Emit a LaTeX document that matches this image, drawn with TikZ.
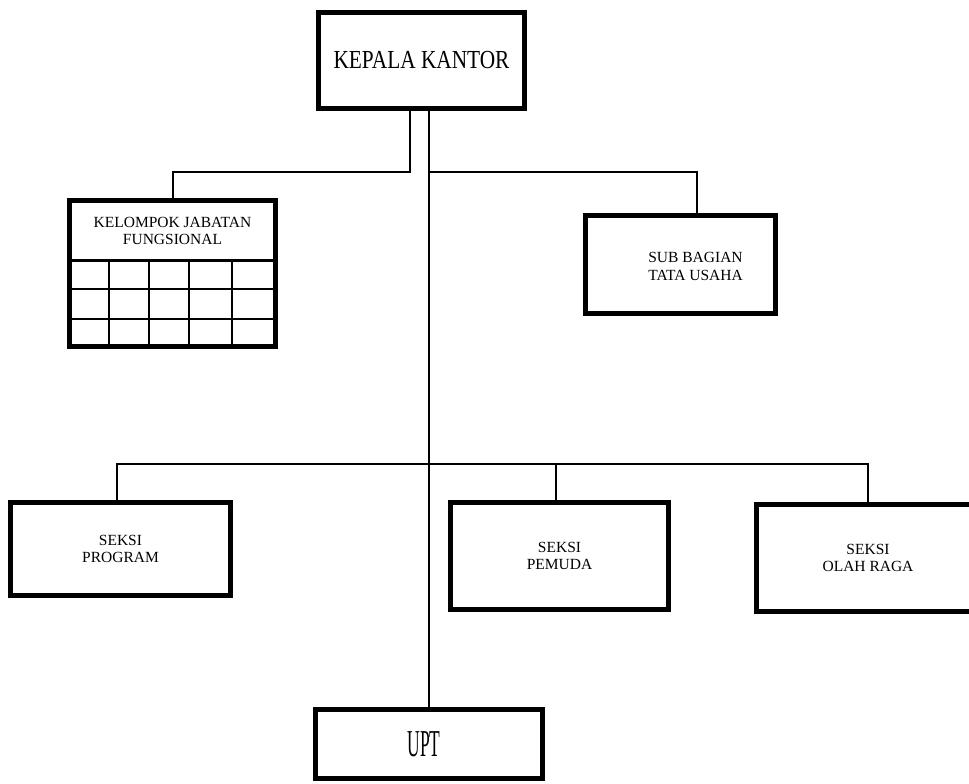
\documentclass[tikz,border=0pt]{standalone}
\usepackage{fontspec}
\setmainfont{Liberation Serif}
\newfontfamily\kfont[FakeStretch=0.82]{Liberation Serif}
\newfontfamily\ufont[FakeStretch=0.46]{Liberation Serif}
\begin{document}
\begin{tikzpicture}[x=1pt,y=-1pt,
  box/.style={draw,line width=5pt,inner sep=0pt,minimum width=#1},
  conn/.style={line width=2pt},
  gridline/.style={line width=2.5pt},
  lbl/.style={align=center,font=\fontsize{15.5}{17.5}\selectfont,inner sep=0pt}]
\path[use as bounding box] (0,0) rectangle (969,784);
\clip (0,0) rectangle (969,784);
% boxes
\node[box=206pt,minimum height=96pt,font=\kfont\fontsize{26}{30}\selectfont] (kepala) at (421.5,60.5) {KEPALA KANTOR};
\node[box=206pt,minimum height=146pt] (kelompok) at (172.5,273.5) {};
\node[lbl] (kelompoktxt) at (172.5,231) {KELOMPOK JABATAN\\FUNGSIONAL};
\node[box=190pt,minimum height=98pt] (subbag) at (680.5,264.5) {};
\node[lbl] (subbagtxt) at (695.5,266.5) {SUB BAGIAN\\TATA USAHA};
\node[box=220pt,minimum height=93pt,lbl] (program) at (120.5,549) {SEKSI\\PROGRAM};
\node[box=218pt,minimum height=107pt,lbl] (pemuda) at (559.5,556) {SEKSI\\PEMUDA};
\node[box=223pt,minimum height=107pt,lbl] (olah) at (868,558) {SEKSI\\OLAH RAGA};
\node[box=227pt,minimum height=69pt] (upt) at (429,744) {};
\node[font=\ufont\fontsize{38}{40}\selectfont,inner sep=0pt] (upttxt) at (424,744) {UPT};
% grid inside kelompok
\draw[line width=3pt] (69.5,260) -- (275.5,260);
\draw[gridline] (69.5,289) -- (275.5,289);
\draw[gridline] (69.5,319) -- (275.5,319);
\foreach \gx in {109,149,189,232} \draw[gridline] (\gx,260) -- (\gx,346.5);
% connectors
\coordinate (a1) at (410,172);
\coordinate (a2) at (173,172);
\draw[conn] (kepala.south -| a1) -- (a1) -- (a2) -- (kelompok.north -| a2);
\coordinate (s1) at (429,172);
\coordinate (s2) at (697,172);
\draw[conn] (s1) -- (s2) -- (subbag.north -| s2);
\draw[conn] (kepala.south -| upt.north) -- (upt.north);
\coordinate (b1) at (117,464);
\coordinate (b2) at (556,464);
\coordinate (b3) at (868,464);
\draw[conn] (program.north -| b1) -- (b1) -- (b3) -- (olah.north -| b3);
\draw[conn] (b2) -- (pemuda.north -| b2);
\end{tikzpicture}
\end{document}
